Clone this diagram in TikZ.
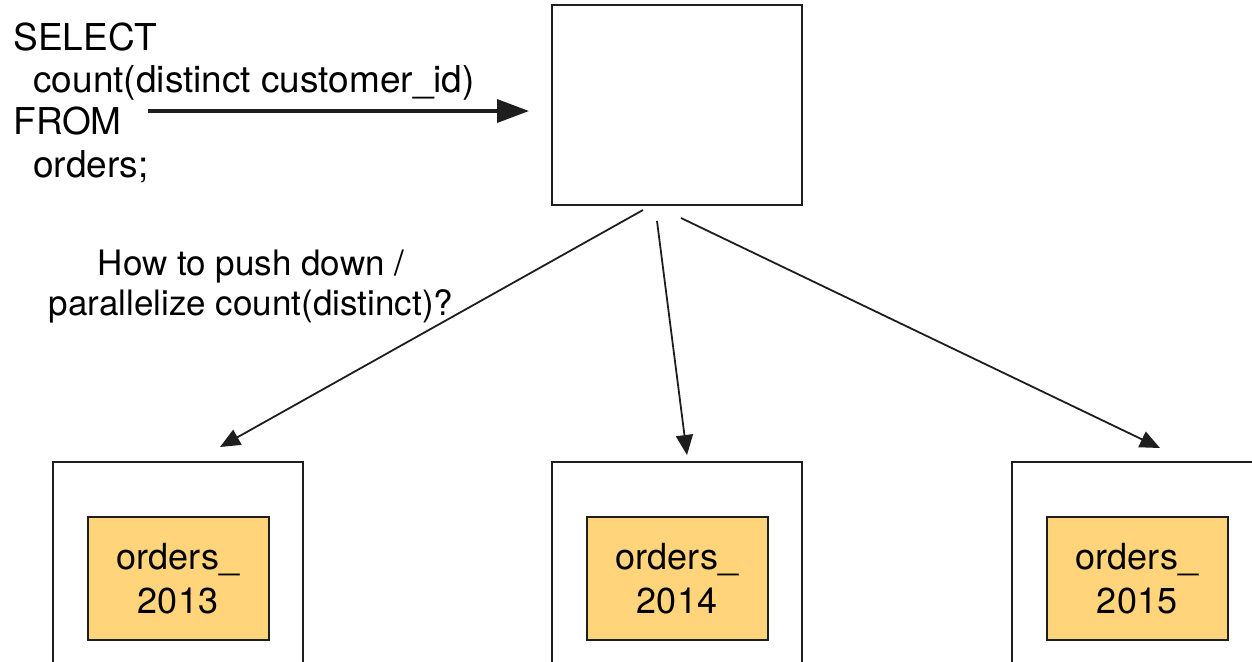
\documentclass[tikz,border=0pt]{standalone}
\usepackage{fontspec}
\setmainfont{TeX Gyre Heros}
\usepackage{tikz}
\usetikzlibrary{arrows.meta,calc,positioning}
\definecolor{tablefill}{HTML}{FFD47A}
\definecolor{edgeblack}{HTML}{1E1E1E}

\begin{document}
\begin{tikzpicture}[x=0.5pt,y=-0.5pt,
  opbox/.style={draw=edgeblack,line width=1pt,fill=white,inner sep=0pt,minimum width=125pt},
  tablebox/.style={draw=edgeblack,line width=1pt,fill=tablefill,inner sep=0pt,
    minimum width=90.5pt,minimum height=61.5pt,align=center,font=\fontsize{18}{22}\selectfont},
  flow/.style={draw=edgeblack,line width=0.9pt,-{Triangle[length=10pt,width=8.5pt]}}]
  \useasboundingbox (0,0) rectangle (1252,661);
  \node[opbox,minimum height=100pt] (agg) at (677,105) {};
  \node[anchor=north west,inner sep=0pt,align=left,font=\fontsize{18.5}{21.2}\selectfont] (query) at (13,22) {%
    SELECT\\
    \hspace*{10pt}count(distinct customer\_id)\\
    FROM\\
    \hspace*{10pt}orders;};
  \coordinate (qstart) at (148,111);
  \draw[draw=edgeblack,line width=1.8pt,-{Triangle[length=16pt,width=11.5pt]}] (qstart) -- ([xshift=-11pt,yshift=-3pt]agg.west);
  \node[anchor=north,inner sep=0pt,align=center,font=\fontsize{17.5}{20}\selectfont] (question) at (251,250) {%
    How to push down /\\
    parallelize count(distinct)?};
  \foreach \yr/\cx in {2013/178,2014/677,2015/1137}{
    \node[opbox,minimum height=125pt,anchor=north] (part\yr) at (\cx,461) {};
    \node[tablebox,below=27.5pt of part\yr.north] (orders\yr) {orders\_\\\yr};
  }
  \draw[flow] ([xshift=-17pt,yshift=-2pt]agg.south) -- ([xshift=21pt,yshift=7pt]part2013.north);
  \draw[flow] ([xshift=-10pt,yshift=-7.5pt]agg.south) -- ([xshift=5pt,yshift=3pt]part2014.north);
  \draw[flow] ([xshift=2pt,yshift=-6pt]agg.south) -- ([xshift=11.5pt,yshift=6.5pt]part2015.north);
\end{tikzpicture}
\end{document}
